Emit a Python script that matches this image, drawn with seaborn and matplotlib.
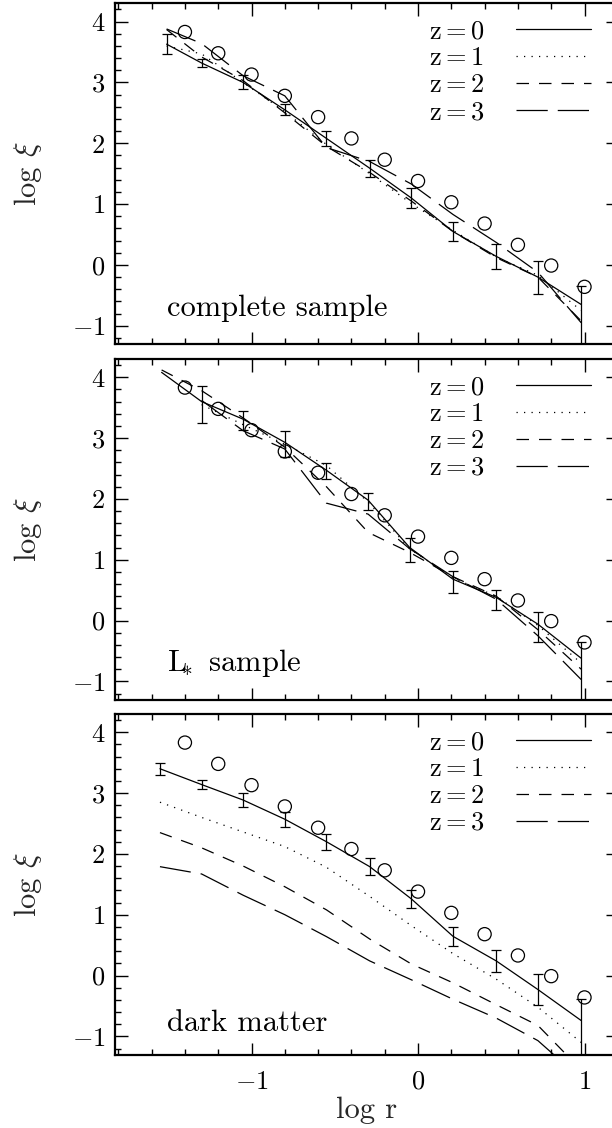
import numpy as np
import pandas as pd
import matplotlib
matplotlib.use("Agg")
import matplotlib.pyplot as plt
import seaborn as sns
from matplotlib.lines import Line2D
from matplotlib.ticker import MultipleLocator

nan = np.nan

# ---------------- data ----------------
obs_logr = [-1.4, -1.2, -1.0, -0.8, -0.6, -0.4, -0.2, 0.0, 0.2, 0.4, 0.6, 0.8, 1.0]
obs_logxi = [3.83, 3.48, 3.13, 2.78, 2.43, 2.08, 1.73, 1.38, 1.03, 0.68, 0.33, -0.01, -0.36]

redshift_labels = ["z=0", "z=1", "z=2", "z=3"]
panel_notes = ["complete sample", r"$\mathrm{L}_{\!\!\!*}$ sample", "dark matter"]

# complete sample
cs_logr = [-1.51, -1.30, -1.05, -0.80, -0.55, -0.29, -0.04, 0.21, 0.47, 0.72, 0.98]
cs_z0 = [3.63, 3.32, 3.00, 2.55, 2.08, 1.59, 1.10, 0.55, 0.14, -0.20, -0.65]
cs_z1 = [3.60, 3.47, 3.00, 2.52, 1.98, 1.50, 1.01, 0.57, 0.13, -0.17, -0.75]
cs_z2 = [3.87, 3.42, 3.03, 2.50, 1.95, 1.52, 1.05, 0.55, 0.12, -0.20, -0.92]
cs_z3 = [3.88, 3.64, 3.11, 2.78, 1.93, 1.70, 1.33, 0.83, 0.37, -0.12, -0.95]
cs_err_lo = [0.165, 0.065, 0.115, 0.09, 0.12, 0.14, 0.16, 0.16, 0.20, 0.27, 1.2]
cs_err_hi = [0.165, 0.065, 0.115, 0.09, 0.12, 0.14, 0.16, 0.16, 0.20, 0.27, 0.30]

# L* sample
ls_logr = [-1.54, -1.30, -1.05, -0.80, -0.55, -0.30, -0.05, 0.21, 0.47, 0.72, 0.98]
ls_z0 = [4.08, 3.60, 3.31, 2.93, 2.47, 1.98, 1.20, 0.68, 0.38, -0.06, -0.62]
ls_z1 = [nan, 3.55, 3.22, 2.90, 2.55, 1.95, 1.18, 0.70, 0.40, -0.08, -0.70]
ls_z2 = [4.12, 3.78, 3.33, 2.85, 2.20, 1.45, 1.12, 0.72, 0.40, -0.15, -0.80]
ls_z3 = [nan, 3.62, 3.12, 2.82, 1.93, 1.75, 1.18, 0.72, 0.35, -0.25, -0.97]
ls_err_lo = [nan, 0.36, 0.18, 0.24, 0.15, 0.16, 0.24, 0.22, 0.20, 0.30, 1.2]
ls_err_hi = [nan, 0.26, 0.14, 0.18, 0.12, 0.12, 0.16, 0.14, 0.12, 0.20, 0.27]

# dark matter
dm_logr = [-1.55, -1.30, -1.05, -0.80, -0.55, -0.29, -0.04, 0.21, 0.47, 0.72, 0.98]
dm_z0 = [3.40, 3.14, 2.885, 2.57, 2.20, 1.79, 1.26, 0.645, 0.24, -0.23, -0.74]
dm_z1 = [2.85, 2.60, 2.36, 2.12, 1.78, 1.30, 0.82, 0.36, -0.06, -0.52, -1.10]
dm_z2 = [2.35, 2.10, 1.80, 1.46, 1.08, 0.60, 0.19, -0.12, -0.48, -0.82, -1.55]
dm_z3 = [1.79, 1.67, 1.32, 1.00, 0.64, 0.24, -0.07, -0.39, -0.70, -1.07, -1.70]
dm_err_lo = [0.095, 0.08, 0.11, 0.12, 0.13, 0.145, 0.15, 0.16, 0.185, 0.26, 1.2]
dm_err_hi = [0.095, 0.08, 0.11, 0.12, 0.13, 0.145, 0.15, 0.16, 0.185, 0.26, 0.36]

# ---------------- style ----------------
sns.set_theme(style="ticks")
plt.rcParams.update({
    "font.family": ["cmr10", "DejaVu Serif"],
    "mathtext.fontset": "cm",
    "axes.formatter.use_mathtext": True,
    "axes.unicode_minus": True,
    "axes.linewidth": 1.6,
    "axes.edgecolor": "black",
    "text.color": "black",
    "xtick.color": "black",
    "ytick.color": "black",
})

dash_map = {"z=0": "", "z=1": (1, 5), "z=2": (10, 8), "z=3": (25, 8)}
LW = 0.9

fig = plt.figure(figsize=(6.12, 11.28), dpi=100)
ax_left = 115 / 612
ax_width = 502.8 / 612
ax_height = 340.6 / 1128
bottoms = [1 - 344.0 / 1128, 1 - 699.6 / 1128, 1 - 1054.6 / 1128]
note_y = [0.083, 0.085, 0.07]

panels = [
    (cs_logr, [cs_z0, cs_z1, cs_z2, cs_z3], cs_err_lo, cs_err_hi),
    (ls_logr, [ls_z0, ls_z1, ls_z2, ls_z3], ls_err_lo, ls_err_hi),
    (dm_logr, [dm_z0, dm_z1, dm_z2, dm_z3], dm_err_lo, dm_err_hi),
]

for i, (logr, zs, elo, ehi) in enumerate(panels):
    ax = fig.add_axes([ax_left, bottoms[i], ax_width, ax_height])
    df = pd.DataFrame({
        "logr": np.tile(logr, len(zs)),
        "logxi": np.concatenate([np.asarray(z, float) for z in zs]),
        "z": np.repeat(redshift_labels, len(logr)),
    }).dropna()
    sns.lineplot(data=df, x="logr", y="logxi", style="z", style_order=redshift_labels,
                 dashes=dash_map, color="black", linewidth=LW, estimator=None,
                 sort=False, legend=False, ax=ax)

    lr = np.asarray(logr, float)
    y0 = np.asarray(zs[0], float)
    lo = np.asarray(elo, float)
    hi = np.asarray(ehi, float)
    m = ~np.isnan(lo)
    ax.errorbar(lr[m], y0[m], yerr=[lo[m], hi[m]], fmt="none", ecolor="black",
                elinewidth=LW, capsize=3.5, capthick=LW)

    sns.scatterplot(x=obs_logr, y=obs_logxi, marker="o", s=90, facecolor="none",
                    edgecolor="black", linewidth=0.9, ax=ax, zorder=4)

    ax.set_xlim(-1.82, 1.2)
    ax.set_ylim(-1.3, 4.3)
    ax.xaxis.set_major_locator(MultipleLocator(1))
    ax.xaxis.set_minor_locator(MultipleLocator(0.2))
    ax.yaxis.set_major_locator(MultipleLocator(1))
    ax.yaxis.set_minor_locator(MultipleLocator(0.2))
    ax.tick_params(which="both", direction="in", top=True, right=True,
                   labeltop=False, labelright=False, width=1.0, labelsize=19)
    ax.tick_params(which="major", length=9)
    ax.tick_params(which="minor", length=4.5)
    ax.tick_params(axis="y", which="major", pad=7)
    ax.tick_params(axis="x", which="major", pad=11)

    ax.set_ylabel(r"log $\xi$", fontsize=22, labelpad=20)
    if i < 2:
        ax.tick_params(labelbottom=False)
        ax.set_xlabel("")
    else:
        ax.set_xlabel("log r", fontsize=22, labelpad=2)

    handles = []
    for lab in redshift_labels:
        d = dash_map[lab]
        if d == "":
            handles.append(Line2D([0], [0], color="black", lw=LW, linestyle="-"))
        else:
            handles.append(Line2D([0], [0], color="black", lw=LW, dashes=d))
    ax.legend(handles, [r"$\mathrm{" + lab + "}$" for lab in redshift_labels],
              loc="upper right", bbox_to_anchor=(0.9467, 0.952), frameon=False,
              markerfirst=False, handlelength=2.85, handletextpad=1.2,
              labelspacing=0.12, borderpad=0, borderaxespad=0, fontsize=19)

    ax.text(0.104, note_y[i], panel_notes[i], transform=ax.transAxes,
            fontsize=22, ha="left", va="baseline")

fig.savefig("out.png", dpi=100)
